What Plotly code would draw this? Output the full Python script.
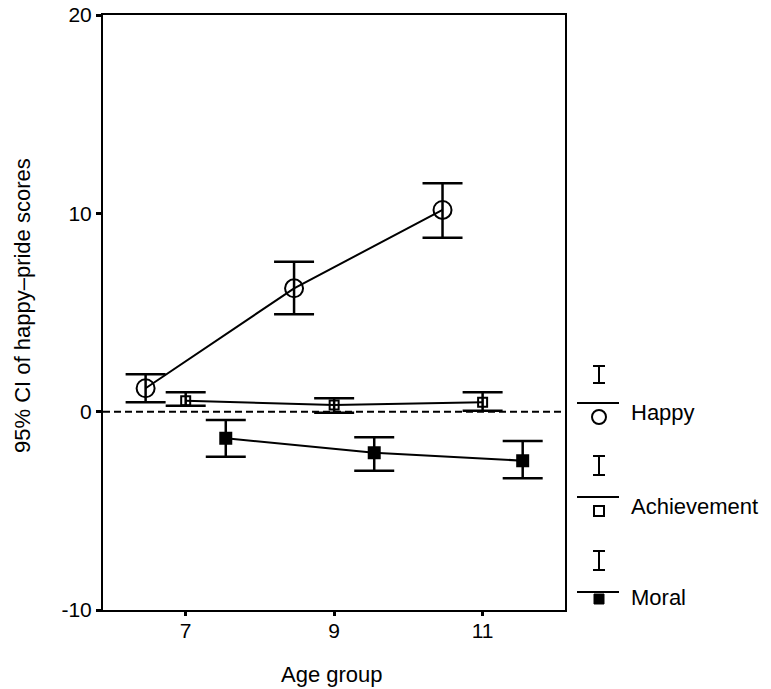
import plotly.graph_objects as go

# ---- data ----
age_ticks = [7, 9, 11]
age_tick_labels = ["7", "9", "11"]
score_ticks = [-10, 0, 10, 20]
score_tick_labels = ["-10", "0", "10", "20"]

happy_x = [6.46, 8.46, 10.46]
happy_mean = [1.18, 6.22, 10.17]
happy_lo = [0.47, 4.91, 8.77]
happy_hi = [1.89, 7.56, 11.52]

ach_x = [7.0, 9.0, 11.0]
ach_mean = [0.55, 0.34, 0.47]
ach_lo = [0.30, -0.05, 0.05]
ach_hi = [0.98, 0.68, 0.98]

moral_x = [7.54, 9.54, 11.54]
moral_mean = [-1.34, -2.07, -2.47]
moral_lo = [-2.27, -2.98, -3.36]
moral_hi = [-0.42, -1.29, -1.48]

series_names = ["Happy", "Achievement", "Moral"]

FONT = "Liberation Sans, Arial, sans-serif"
W, H = 771, 689
# plot-area edges in pixels
L, R, T, B = 103, 565, 15, 610


def px(x):
    return (x - L) / (R - L)


def py(y):
    return (B - y) / (B - T)


fig = go.Figure()


def add_series(xs, mean, lo, hi, symbol, size, name):
    plus = [h - m for h, m in zip(hi, mean)]
    minus = [m - l for m, l in zip(mean, lo)]
    fig.add_trace(go.Scatter(
        x=xs, y=mean, mode="lines+markers", name=name,
        line=dict(color="black", width=2),
        marker=dict(symbol=symbol, size=size, color="black",
                    line=dict(color="black", width=2)),
        error_y=dict(type="data", symmetric=False, array=plus, arrayminus=minus,
                     color="black", thickness=2.5, width=20),
        showlegend=False,
    ))


add_series(happy_x, happy_mean, happy_lo, happy_hi, "circle-open", 18, series_names[0])
add_series(ach_x, ach_mean, ach_lo, ach_hi, "square-open", 9, series_names[1])
add_series(moral_x, moral_mean, moral_lo, moral_hi, "square", 11, series_names[2])

shapes = []
# reference line at 0
shapes.append(dict(type="line", xref="paper", yref="y", x0=0, x1=1, y0=0, y1=0,
                   line=dict(color="black", width=2, dash="7px,4px")))

# custom legend
legend_rows = [
    # (I top, I bottom, line y, marker y, text y, marker kind)
    (366, 383, 403, 417, 412, "circle"),
    (456, 475, 497, 511, 506, "open"),
    (551, 570, 592, 599, 597, "filled"),
]
cx = 599
for (itop, ibot, ly, my, ty, kind), name in zip(legend_rows, series_names):
    shapes.append(dict(type="line", xref="paper", yref="paper",
                       x0=px(cx), x1=px(cx), y0=py(itop), y1=py(ibot),
                       line=dict(color="black", width=2)))
    for yy in (itop, ibot):
        shapes.append(dict(type="line", xref="paper", yref="paper",
                           x0=px(cx - 6), x1=px(cx + 6), y0=py(yy), y1=py(yy),
                           line=dict(color="black", width=2)))
    shapes.append(dict(type="line", xref="paper", yref="paper",
                       x0=px(577), x1=px(619), y0=py(ly), y1=py(ly),
                       line=dict(color="black", width=2)))
    if kind == "circle":
        shapes.append(dict(type="circle", xref="paper", yref="paper",
                           x0=px(cx - 7), x1=px(cx + 7), y0=py(my - 7), y1=py(my + 7),
                           line=dict(color="black", width=2)))
    elif kind == "open":
        shapes.append(dict(type="rect", xref="paper", yref="paper",
                           x0=px(cx - 5), x1=px(cx + 5), y0=py(my - 5), y1=py(my + 5),
                           line=dict(color="black", width=2)))
    else:
        shapes.append(dict(type="rect", xref="paper", yref="paper",
                           x0=px(cx - 5), x1=px(cx + 5), y0=py(my - 5), y1=py(my + 5),
                           line=dict(color="black", width=1), fillcolor="black"))

annotations = []
for (itop, ibot, ly, my, ty, kind), name in zip(legend_rows, series_names):
    annotations.append(dict(text=name, xref="paper", yref="paper",
                            x=px(629), y=py(ty), xanchor="left", yanchor="middle",
                            showarrow=False, font=dict(size=22, color="black", family=FONT)))

# axis titles
annotations.append(dict(text="Age group", xref="paper", yref="paper",
                        x=px(332), y=py(674), xanchor="center", yanchor="middle",
                        showarrow=False, font=dict(size=22, color="black", family=FONT)))
annotations.append(dict(text="95% CI of happy\u2013pride scores", xref="paper", yref="paper",
                        x=px(22), y=py(306), xanchor="center", yanchor="middle", textangle=-90,
                        showarrow=False, font=dict(size=22, color="black", family=FONT)))

fig.update_layout(
    width=W, height=H,
    margin=dict(l=L, r=W - R, t=T, b=H - B),
    plot_bgcolor="white", paper_bgcolor="white",
    font=dict(family=FONT, color="black", size=21),
    shapes=shapes, annotations=annotations,
    xaxis=dict(range=[5.886, 12.11], tickvals=age_ticks, ticktext=age_tick_labels,
               showgrid=False, zeroline=False, showline=True, mirror=True,
               linecolor="black", linewidth=2, ticks="outside", ticklen=4,
               tickwidth=3, tickcolor="black", automargin=False,
               ticklabelstandoff=-3, tickfont=dict(size=21)),
    yaxis=dict(range=[-10, 20], tickvals=score_ticks, ticktext=score_tick_labels,
               showgrid=False, zeroline=False, showline=True, mirror=True,
               linecolor="black", linewidth=2, ticks="outside", ticklen=5,
               tickwidth=3, tickcolor="black", automargin=False,
               ticklabeloverflow="allow", tickfont=dict(size=21)),
)

fig.write_html("out.html",
               config={"displayModeBar": False},
               post_script="document.body.style.margin='0px';document.body.style.overflow='hidden';")
